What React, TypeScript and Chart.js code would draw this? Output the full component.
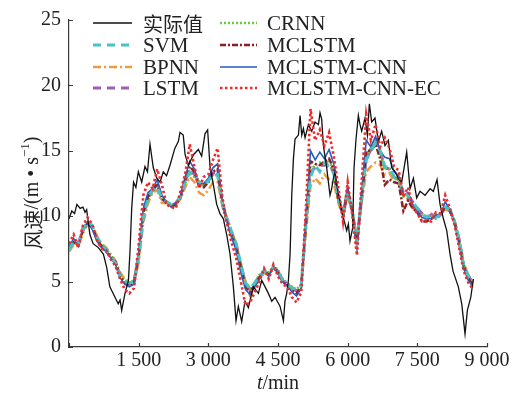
import React, { useEffect, useRef } from 'react';
import { Chart, registerables } from 'chart.js';

Chart.register(...registerables);

// ---------- data ----------
const ACTUAL_T = [
  0, 60, 120, 170, 240, 300, 345, 380, 450, 520, 630, 740, 810, 880, 990, 1060, 1100, 1134, 1206, 1280,
  1313, 1350, 1390, 1440, 1493, 1565, 1636, 1690, 1744, 1815, 1890, 1960, 2030, 2100, 2175, 2280, 2354, 2390, 2460, 2500,
  2570, 2680, 2785, 2856, 2928, 2985, 3036, 3108, 3180, 3250, 3324, 3395, 3467, 3539, 3596, 3646, 3718, 3790, 3862, 3970,
  4078, 4150, 4222, 4293, 4365, 4437, 4545, 4617, 4650, 4688, 4724, 4760, 4796, 4832, 4867, 4939, 4975, 5011, 5047, 5083,
  5155, 5226, 5298, 5370, 5405, 5441, 5477, 5549, 5585, 5620, 5656, 5692, 5728, 5764, 5835, 5907, 5979, 6015, 6050, 6108,
  6137, 6180, 6230, 6266, 6302, 6373, 6424, 6467, 6517, 6589, 6660, 6732, 6804, 6876, 6948, 7020, 7091, 7163, 7271, 7343,
  7415, 7486, 7558, 7666, 7774, 7845, 7924, 7989, 8054, 8133, 8204, 8269, 8383, 8456, 8527, 8577, 8650, 8707,
];
const ACTUAL = [
  9.8, 10.4, 10.2, 10.9, 10.6, 10.7, 10.3, 10.5, 8.6, 7.9, 7.6, 7.1, 6.1, 4.6, 3.8, 3.3, 3.6, 2.8, 4.1, 5.1,
  7.3, 10.6, 12.6, 12.2, 13.4, 12.6, 13.8, 13.4, 15.5, 13.7, 12.9, 12.6, 13.4, 13.1, 13.9, 15.2, 15.7, 16.4, 16.2, 14.7,
  13.9, 14.7, 15.1, 14.6, 16.3, 16.6, 13.8, 12.4, 10.9, 10.2, 9.8, 8.6, 7.1, 4.6, 2.0, 3.1, 1.95, 3.5, 3.0, 4.6,
  4.1, 5.1, 4.6, 4.1, 3.5, 3.8, 3.1, 2.0, 3.5, 4.1, 5.1, 7.1, 11.6, 14.4, 15.9, 16.2, 17.7, 16.2, 16.7, 16.0,
  17.0, 16.5, 17.2, 17.0, 17.9, 17.4, 15.4, 13.7, 12.6, 11.6, 12.1, 12.9, 13.4, 12.4, 11.1, 9.9, 8.9, 9.4, 8.1, 9.1,
  13.7, 15.9, 17.7, 17.0, 16.5, 17.5, 16.2, 18.6, 17.2, 17.5, 15.7, 16.5, 15.4, 15.8, 13.7, 13.4, 12.9, 12.6, 14.9, 12.1,
  12.9, 11.4, 11.9, 11.6, 12.1, 11.9, 12.8, 10.9, 9.9, 8.9, 7.1, 5.8, 4.6, 3.3, 1.0, 2.8, 3.8, 5.2,
];

const PRED_T = [
  0, 100, 200, 300, 400, 500, 600, 700, 800, 900,
  1000, 1100, 1200, 1300, 1400, 1500, 1600, 1700, 1800, 1900,
  2000, 2100, 2200, 2300, 2400, 2500, 2600, 2700, 2800, 2900,
  3000, 3100, 3200, 3300, 3400, 3500, 3600, 3700, 3800, 3900,
  4000, 4100, 4200, 4300, 4400, 4500, 4600, 4700, 4800, 4900,
  5000, 5100, 5200, 5300, 5400, 5500, 5600, 5700, 5800, 5900,
  6000, 6100, 6200, 6300, 6400, 6500, 6600, 6700, 6800, 6900,
  7000, 7100, 7200, 7300, 7400, 7500, 7600, 7700, 7800, 7900,
  8000, 8100, 8200, 8300, 8400, 8500, 8600, 8700,
];

const SVM = [
  7.4, 8.1, 7.9, 9.0, 9.6, 9.3, 8.4, 7.9, 7.5, 6.9,
  6.4, 5.4, 5.0, 4.9, 5.0, 6.9, 10.0, 11.3, 12.0, 12.3,
  11.3, 11.1, 10.9, 11.0, 11.5, 12.6, 13.4, 13.2, 12.6, 12.4,
  12.7, 13.2, 13.2, 11.0, 9.8, 8.8, 7.9, 6.3, 4.9, 4.4,
  4.9, 5.4, 5.8, 5.6, 6.1, 5.8, 5.1, 4.8, 4.5, 4.4,
  4.7, 9.5, 13.0, 13.9, 13.4, 14.1, 13.7, 13.3, 11.4, 10.2,
  11.8, 10.4, 8.0, 11.5, 14.3, 15.0, 15.6, 15.0, 13.8, 13.7,
  13.0, 12.8, 11.8, 11.6, 11.1, 10.6, 10.2, 9.9, 10.1, 9.9,
  10.1, 10.7, 10.5, 9.6, 8.2, 6.2, 5.4, 4.9,
];
const BPNN = [
  7.3, 7.8, 7.7, 8.7, 9.4, 9.3, 8.5, 7.9, 7.6, 7.1,
  6.6, 5.7, 5.2, 5.0, 5.0, 6.4, 9.5, 11.0, 11.8, 12.0,
  11.0, 11.0, 10.8, 10.9, 11.3, 12.2, 13.0, 12.6, 11.8, 11.6,
  12.0, 12.6, 12.6, 10.8, 9.7, 8.8, 7.9, 6.4, 5.0, 3.9,
  4.6, 5.2, 5.6, 5.5, 6.0, 5.8, 5.2, 4.8, 4.6, 4.3,
  4.6, 8.8, 12.3, 12.9, 12.5, 13.2, 12.8, 12.5, 11.0, 10.0,
  11.4, 10.3, 8.3, 11.0, 13.4, 13.8, 14.1, 13.9, 13.2, 13.3,
  12.6, 12.4, 11.6, 11.3, 10.9, 10.5, 10.2, 10.0, 10.2, 10.0,
  10.2, 10.5, 10.4, 9.6, 8.3, 6.4, 5.5, 4.9,
];
const LSTM = [
  7.5, 8.2, 7.9, 9.1, 9.6, 9.2, 8.3, 7.8, 7.4, 6.9,
  6.4, 5.5, 5.0, 4.8, 5.0, 7.0, 10.1, 11.4, 12.0, 12.4,
  11.3, 11.1, 10.8, 11.0, 11.5, 12.7, 13.5, 13.2, 12.5, 12.4,
  12.7, 13.3, 13.3, 11.1, 9.8, 8.7, 7.8, 6.2, 4.9, 4.4,
  4.9, 5.4, 5.8, 5.6, 6.1, 5.8, 5.1, 4.8, 4.5, 4.3,
  4.7, 9.5, 13.4, 13.7, 13.9, 13.9, 14.1, 13.3, 11.4, 10.2,
  11.9, 10.4, 8.0, 11.5, 14.4, 15.1, 15.7, 15.0, 13.7, 13.6,
  13.0, 12.8, 11.8, 11.6, 11.1, 10.6, 10.2, 9.9, 10.1, 9.9,
  10.1, 10.7, 10.5, 9.6, 8.2, 6.2, 5.4, 4.9,
];
const CRNN = [
  7.3, 8.0, 7.8, 8.9, 9.4, 9.2, 8.4, 7.8, 7.4, 7.0,
  6.5, 5.6, 5.1, 4.9, 5.1, 6.8, 9.9, 11.2, 12.1, 12.4,
  11.4, 11.0, 10.8, 10.9, 11.5, 12.5, 13.3, 13.0, 12.5, 12.3,
  12.6, 13.2, 13.1, 11.1, 9.9, 8.9, 7.8, 6.3, 5.0, 4.5,
  4.9, 5.5, 5.9, 5.7, 6.2, 5.9, 5.2, 4.9, 4.6, 4.4,
  4.8, 9.3, 13.6, 13.9, 14.1, 14.0, 14.3, 13.4, 11.2, 10.3,
  12.1, 10.5, 8.1, 11.3, 14.6, 15.2, 15.8, 14.8, 13.7, 13.6,
  12.9, 12.7, 11.5, 11.5, 10.9, 10.4, 10.0, 9.8, 10.0, 9.8,
  10.1, 10.7, 10.5, 9.7, 8.1, 6.2, 5.4, 4.9,
];
const MCLSTM = [
  7.5, 8.0, 7.8, 8.9, 9.5, 9.1, 8.3, 7.7, 7.3, 6.9,
  6.5, 5.4, 4.9, 4.7, 4.9, 7.0, 10.3, 11.5, 11.9, 12.5,
  11.4, 11.0, 10.7, 10.9, 11.4, 12.8, 13.8, 13.4, 12.3, 12.2,
  12.6, 13.4, 13.6, 11.0, 9.5, 8.6, 7.6, 6.0, 4.6, 4.2,
  4.8, 5.3, 5.8, 5.5, 6.1, 5.7, 5.0, 4.7, 4.3, 4.1,
  4.6, 9.4, 14.2, 14.0, 13.9, 14.2, 14.4, 13.6, 11.3, 10.0,
  12.0, 10.3, 7.9, 11.4, 15.0, 15.0, 15.5, 14.4, 12.4, 12.8,
  12.6, 12.5, 10.4, 11.2, 10.6, 10.3, 9.6, 9.6, 9.8, 10.0,
  10.0, 10.8, 10.4, 9.5, 8.0, 6.1, 5.2, 4.7,
];
const MCLSTM_CNN = [
  7.6, 8.3, 7.7, 9.1, 9.5, 9.0, 8.1, 7.6, 7.3, 6.8,
  6.3, 5.3, 4.8, 4.6, 4.8, 7.2, 10.6, 11.8, 12.1, 12.8,
  11.6, 11.1, 10.7, 11.0, 11.6, 13.0, 14.2, 13.6, 12.5, 12.5,
  12.9, 13.7, 14.0, 11.2, 9.6, 8.4, 7.4, 5.7, 4.4, 4.0,
  4.6, 5.2, 5.9, 5.4, 6.2, 5.6, 5.0, 4.7, 4.2, 3.9,
  4.5, 9.7, 15.0, 14.3, 14.9, 14.4, 15.1, 14.0, 11.6, 10.0,
  12.2, 10.2, 7.6, 11.8, 15.8, 15.3, 16.1, 15.0, 14.5, 14.4,
  13.4, 13.1, 11.6, 11.8, 10.9, 10.4, 9.9, 9.8, 9.8, 10.1,
  10.1, 11.1, 10.5, 9.5, 7.9, 6.0, 5.1, 4.6,
];
const MCLSTM_CNN_EC = [
  7.9, 8.6, 7.6, 9.3, 9.9, 9.4, 8.2, 7.5, 7.4, 6.7,
  6.2, 5.2, 4.4, 4.1, 4.5, 7.8, 11.6, 12.6, 12.1, 13.6,
  12.4, 10.9, 10.7, 10.6, 11.9, 13.2, 15.5, 13.8, 12.2, 13.0,
  13.2, 14.3, 15.2, 11.5, 9.5, 8.0, 6.8, 5.0, 3.2, 3.4,
  4.2, 5.0, 6.0, 5.2, 6.3, 5.4, 4.8, 4.6, 3.8, 3.4,
  4.2, 10.5, 18.2, 15.8, 16.6, 15.4, 16.4, 14.6, 12.2, 9.6,
  12.6, 10.1, 7.0, 12.6, 17.8, 15.8, 17.0, 15.3, 16.0, 15.2,
  13.8, 13.5, 11.5, 12.2, 10.7, 10.2, 9.6, 9.7, 9.6, 10.3,
  10.2, 11.6, 10.6, 9.4, 7.6, 5.8, 4.9, 4.4,
];

const X_TICKS = [0, 1500, 3000, 4500, 6000, 7500, 9000];
const Y_TICKS = [0, 5, 10, 15, 20, 25];

// ---------- style ----------
const SERIF = "'Liberation Serif', 'Times New Roman', serif";
const CJK = "'Noto Sans CJK SC', sans-serif";
const AXIS_COLOR = '#3a3a3a';
const TEXT_COLOR = '#222';

const pts = (ts: number[], vs: number[]) => ts.map((t, i) => ({ x: t, y: vs[i] }));

const fmtTick = (v: number) => {
  if (v === 0) return '';
  const s = String(v);
  return s.length > 3 ? s.slice(0, s.length - 3) + ' ' + s.slice(s.length - 3) : s;
};

const decorPlugin = {
  id: 'decor',
  afterDraw(chart: any) {
    const ctx = chart.ctx as CanvasRenderingContext2D;
    const xs = chart.scales.x;
    const ys = chart.scales.y;
    const area = chart.chartArea;
    ctx.save();
    // inward ticks
    ctx.strokeStyle = AXIS_COLOR;
    ctx.lineWidth = 1.2;
    ctx.setLineDash([]);
    ctx.beginPath();
    X_TICKS.forEach((t) => {
      const px = Math.round(xs.getPixelForValue(t)) + 0.5;
      ctx.moveTo(px, area.bottom);
      ctx.lineTo(px, area.bottom - 4);
    });
    Y_TICKS.forEach((v) => {
      const py = Math.round(ys.getPixelForValue(v)) + 0.5;
      ctx.moveTo(area.left, py);
      ctx.lineTo(area.left + 4, py);
    });
    ctx.stroke();

    // legend
    const ds = chart.data.datasets;
    const rowsY = [23, 45, 67, 88];
    const cols = [
      { lx: 93, lw: 39, tx: 143 },
      { lx: 220, lw: 37, tx: 267 },
    ];
    ds.forEach((d: any, i: number) => {
      const c = cols[Math.floor(i / 4)];
      const y = rowsY[i % 4];
      ctx.strokeStyle = d.borderColor;
      ctx.lineWidth = d.borderWidth;
      ctx.setLineDash(d.borderDash || []);
      ctx.beginPath();
      ctx.moveTo(c.lx, y);
      ctx.lineTo(c.lx + c.lw, y);
      ctx.stroke();
      ctx.setLineDash([]);
      ctx.fillStyle = TEXT_COLOR;
      ctx.textBaseline = 'middle';
      ctx.textAlign = 'left';
      const isCJK = /[\u4e00-\u9fff]/.test(d.label);
      ctx.font = isCJK ? `20px ${CJK}` : `21px ${SERIF}`;
      ctx.fillText(d.label, c.tx, y + 1);
    });

    // x title: t/min
    ctx.fillStyle = TEXT_COLOR;
    ctx.textBaseline = 'middle';
    ctx.textAlign = 'left';
    ctx.font = `italic 20px ${SERIF}`;
    const wT = ctx.measureText('t').width;
    ctx.font = `20px ${SERIF}`;
    const wR = ctx.measureText('/min').width;
    const cx = (area.left + area.right) / 2;
    const startX = cx - (wT + wR) / 2;
    ctx.font = `italic 20px ${SERIF}`;
    ctx.fillText('t', startX, 384);
    ctx.font = `20px ${SERIF}`;
    ctx.fillText('/min', startX + wT, 384);

    // y title: 风速/(m • s⁻¹)
    const parts = [
      { t: '风速', f: `20px ${CJK}`, dy: 0 },
      { t: '/(m • s', f: `20px ${SERIF}`, dy: 0 },
      { t: '−1', f: `13px ${SERIF}`, dy: -7 },
      { t: ')', f: `20px ${SERIF}`, dy: 0 },
    ];
    let total = 0;
    const widths = parts.map((p) => {
      ctx.font = p.f;
      const w = ctx.measureText(p.t).width;
      total += w;
      return w;
    });
    ctx.translate(33, 193);
    ctx.rotate(-Math.PI / 2);
    let x = -total / 2;
    parts.forEach((p, i) => {
      ctx.font = p.f;
      ctx.fillText(p.t, x, p.dy);
      x += widths[i];
    });
    ctx.restore();
  },
};

export default function App() {
  const ref = useRef<HTMLCanvasElement | null>(null);

  useEffect(() => {
    document.body.style.margin = '0';
    const canvas = ref.current;
    if (!canvas) return;
    const base = { pointRadius: 0, tension: 0, fill: false };
    const chart = new Chart(canvas, {
      type: 'line',
      data: {
        datasets: [
          { ...base, label: '实际值', data: pts(ACTUAL_T, ACTUAL), borderColor: '#111111', borderWidth: 1.3, borderDash: [], order: 1 },
          { ...base, label: 'SVM', data: pts(PRED_T, SVM), borderColor: '#45c3c8', borderWidth: 3, borderDash: [8, 6], order: 2 },
          { ...base, label: 'BPNN', data: pts(PRED_T, BPNN), borderColor: '#f39a3c', borderWidth: 2.5, borderDash: [8, 3, 2, 3], order: 7 },
          { ...base, label: 'LSTM', data: pts(PRED_T, LSTM), borderColor: '#a35cb5', borderWidth: 3, borderDash: [8, 6], order: 6 },
          { ...base, label: 'CRNN', data: pts(PRED_T, CRNN), borderColor: '#6cc93a', borderWidth: 2.5, borderDash: [2, 2], order: 5 },
          { ...base, label: 'MCLSTM', data: pts(PRED_T, MCLSTM), borderColor: '#8c1f22', borderWidth: 2.5, borderDash: [6, 2, 2, 2], order: 4 },
          { ...base, label: 'MCLSTM-CNN', data: pts(PRED_T, MCLSTM_CNN), borderColor: '#2a5bbf', borderWidth: 1.6, borderDash: [], order: 3 },
          { ...base, label: 'MCLSTM-CNN-EC', data: pts(PRED_T, MCLSTM_CNN_EC), borderColor: '#f02a2a', borderWidth: 2.6, borderDash: [2.5, 2.5], order: 0 },
        ],
      },
      options: {
        animation: false,
        responsive: false,
        devicePixelRatio: 1,
        layout: { padding: { left: 0, right: 27, top: 17, bottom: 0 } },
        plugins: { legend: { display: false }, tooltip: { enabled: false } },
        scales: {
          x: {
            type: 'linear',
            min: 0,
            max: 9000,
            afterBuildTicks: (s: any) => { s.ticks = X_TICKS.map((v) => ({ value: v })); },
            afterFit: (s: any) => { s.height = 48; },
            ticks: {
              autoSkip: false,
              maxRotation: 0,
              padding: 2,
              color: TEXT_COLOR,
              font: { family: SERIF, size: 20 },
              callback: (v: any) => fmtTick(Number(v)),
            },
            grid: { display: true, drawOnChartArea: false, drawTicks: false },
            border: { display: true, color: AXIS_COLOR, width: 1.2 },
          },
          y: {
            type: 'linear',
            min: 0,
            max: 25,
            afterBuildTicks: (s: any) => { s.ticks = Y_TICKS.map((v) => ({ value: v })); },
            afterFit: (s: any) => { s.width = 69; },
            ticks: {
              padding: 8,
              color: TEXT_COLOR,
              font: { family: SERIF, size: 20 },
              callback: (v: any) => String(v),
            },
            grid: { display: true, drawOnChartArea: false, drawTicks: false },
            border: { display: true, color: AXIS_COLOR, width: 1.2 },
          },
        },
      },
      plugins: [decorPlugin],
    } as any);
    return () => chart.destroy();
  }, []);

  return (
    <div style={{ width: 514, height: 395, background: '#fff' }}>
      <canvas ref={ref} width={514} height={395} style={{ display: 'block' }} />
    </div>
  );
}
